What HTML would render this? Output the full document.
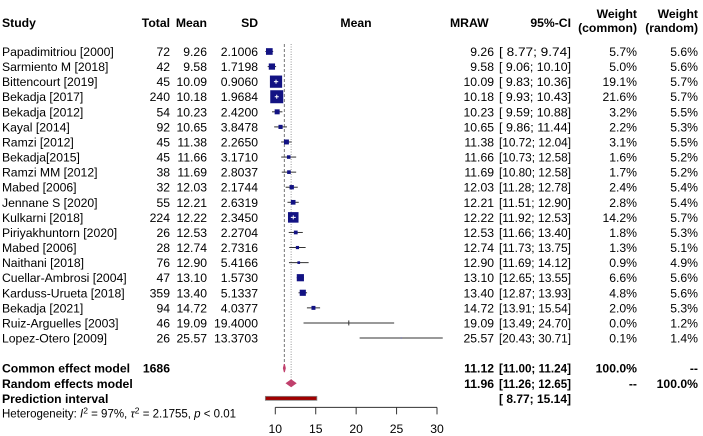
<!DOCTYPE html>
<html><head><meta charset="utf-8"><style>
html,body{margin:0;padding:0;background:#fff;}
svg{display:block;font-family:"Liberation Sans",Arial,sans-serif;}
</style></head><body>
<svg id="plot" width="703" height="436" viewBox="0 0 703 436" xmlns="http://www.w3.org/2000/svg"></svg>
<script>
const studies=["Papadimitriou [2000]","Sarmiento M  [2018]","Bittencourt [2019]","Bekadja [2017]","Bekadja [2012]","Kayal  [2014]","Ramzi  [2012]","Bekadja[2015]","Ramzi MM  [2012]","Mabed [2006]","Jennane S [2020]","Kulkarni [2018]","Piriyakhuntorn [2020]","Mabed [2006]","Naithani [2018]","Cuellar-Ambrosi [2004]","Karduss-Urueta [2018]","Bekadja [2021]","Ruiz-Arguelles [2003]","Lopez-Otero [2009]"];
const totals=[72,42,45,240,54,92,45,45,38,32,55,224,26,28,76,47,359,94,46,26];
const means=[9.26,9.58,10.09,10.18,10.23,10.65,11.38,11.66,11.69,12.03,12.21,12.22,12.53,12.74,12.90,13.10,13.40,14.72,19.09,25.57];
const sds=["2.1006","1.7198","0.9060","1.9684","2.4200","3.8478","2.2650","3.1710","2.8037","2.1744","2.6319","2.3450","2.2704","2.7316","5.4166","1.5730","5.1337","4.0377","19.4000","13.3703"];
const lower=[8.77,9.06,9.83,9.93,9.59,9.86,10.72,10.73,10.80,11.28,11.51,11.92,11.66,11.73,11.69,12.65,12.87,13.91,13.49,20.43];
const upper=[9.74,10.10,10.36,10.43,10.88,11.44,12.04,12.58,12.58,12.78,12.90,12.53,13.40,13.75,14.12,13.55,13.93,15.54,24.70,30.71];
const wCommon=[5.7,5.0,19.1,21.6,3.2,2.2,3.1,1.6,1.7,2.4,2.8,14.2,1.8,1.3,0.9,6.6,4.8,2.0,0.0,0.1];
const wRandom=[5.6,5.6,5.7,5.7,5.5,5.3,5.5,5.2,5.2,5.4,5.4,5.7,5.3,5.1,4.9,5.6,5.6,5.3,1.2,1.4];
const commonEst=[11.12,11.00,11.24];
const randomEst=[11.96,11.26,12.65];
const predInt=[8.77,15.14];
const ticks=[10,15,20,25,30];

const FS=12.2;
const svg=document.getElementById('plot');
const NS="http://www.w3.org/2000/svg";
const X=v=>275.3+(v-10)*8.085;
const Y=i=>51.5+i*15.08;
function el(tag,attrs,parent){const e=document.createElementNS(NS,tag);for(const k in attrs)e.setAttribute(k,attrs[k]);(parent||svg).appendChild(e);return e;}
function txt(s,x,y,anchor,bold,size,parent){const t=el('text',{x:x,y:y,'text-anchor':anchor||'start','font-size':size||FS,'font-weight':bold?'bold':'normal',fill:'#000'},parent);t.textContent=s;return t;}
const f2=v=>v.toFixed(2);
function ciText(a,b,y,bold,parent){
  const s=(a<10?'[ ':'[')+f2(a)+'; '+f2(b)+']';
  const t=el('text',{x:499,y:y,'font-size':FS,'font-weight':bold?'bold':'normal',fill:'#000',textLength:72,lengthAdjust:'spacingAndGlyphs'},parent);
  t.setAttribute('xml:space','preserve');
  t.textContent=s;
  return t;
}

const hdr=el('g',{});


txt('Study',2,27,'start',true,FS,hdr);
txt('Total',170,27,'end',true,FS,hdr);
txt('Mean',207,27,'end',true,FS,hdr);
txt('SD',258,27,'end',true,FS,hdr);
txt('Mean',356,27,'middle',true,FS,hdr);
txt('MRAW',450,27,'start',true,FS,hdr);
txt('95%-CI',571,27,'end',true,FS,hdr);
txt('Weight',637,18,'end',true,FS,hdr);
txt('(common)',637,32,'end',true,FS,hdr);
txt('Weight',698,18,'end',true,FS,hdr);
txt('(random)',698,32,'end',true,FS,hdr);

const yc=Y(21),yr=Y(22),yp=Y(23);

const lc=el('line',{x1:X(commonEst[0]),x2:X(commonEst[0]),y1:44,y2:yc-2,stroke:'#777','stroke-dasharray':'3,2','stroke-width':1});


const lr=el('line',{x1:X(randomEst[0]),x2:X(randomEst[0]),y1:44,y2:yr-3,stroke:'#999','stroke-dasharray':'1,1.5','stroke-width':1});



studies.forEach((s,i)=>{
  const y=Y(i);
  const g=el('g',{});
  
  
  txt(s,2,y+4.5,'start',false,FS,g).setAttribute('xml:space','preserve');
  txt(String(totals[i]),170,y+4.5,'end',false,FS,g);
  txt(f2(means[i]),207,y+4.5,'end',false,FS,g);
  txt(sds[i],258,y+4.5,'end',false,FS,g);
  txt(f2(means[i]),494,y+4.5,'end',false,FS,g);
  ciText(lower[i],upper[i],y+4.5,false,g);
  txt(wCommon[i].toFixed(1)+'%',637,y+4.5,'end',false,FS,g);
  txt(wRandom[i].toFixed(1)+'%',698,y+4.5,'end',false,FS,g);
  const l=el('line',{x1:X(lower[i]),x2:X(upper[i]),y1:y,y2:y,stroke:'#333','stroke-width':1},g);
  
  
  const side=13*Math.sqrt(wCommon[i]/21.6);
  if(side>0.8){
    const r=el('rect',{x:X(means[i])-side/2,y:y-side/2,width:side,height:side,fill:'#121283'},g);
    
    
    if(side>X(upper[i])-X(lower[i])){
      el('line',{x1:X(lower[i]),x2:X(upper[i]),y1:y,y2:y,stroke:'#fff','stroke-width':1},g);
      el('line',{x1:X(means[i]),x2:X(means[i]),y1:y-2,y2:y+2,stroke:'#fff','stroke-width':1},g);
    }
  } else {
    el('line',{x1:X(means[i]),x2:X(means[i]),y1:y-2.5,y2:y+2.5,stroke:'#333','stroke-width':1},g);
  }
});

const gc=el('g',{});


txt('Common effect model',2,yc+4.5,'start',true,FS,gc);
txt('1686',170,yc+4.5,'end',true,FS,gc);
txt(f2(commonEst[0]),494,yc+4.5,'end',true,FS,gc);
ciText(commonEst[1],commonEst[2],yc+4.5,true,gc);
txt('100.0%',637,yc+4.5,'end',true,FS,gc);
txt('--',698,yc+4.5,'end',true,FS,gc);
const dc=el('polygon',{points:`${X(commonEst[1])},${yc} ${X(commonEst[0])},${yc-4} ${X(commonEst[2])},${yc} ${X(commonEst[0])},${yc+4}`,fill:'#c0406c',stroke:'#c0406c','stroke-width':1},gc);



const gr=el('g',{});


txt('Random effects model',2,yr+4.5,'start',true,FS,gr);
txt(f2(randomEst[0]),494,yr+4.5,'end',true,FS,gr);
ciText(randomEst[1],randomEst[2],yr+4.5,true,gr);
txt('--',637,yr+4.5,'end',true,FS,gr);
txt('100.0%',698,yr+4.5,'end',true,FS,gr);
const dr=el('polygon',{points:`${X(randomEst[1])},${yr} ${X(randomEst[0])},${yr-4} ${X(randomEst[2])},${yr} ${X(randomEst[0])},${yr+4}`,fill:'#c0406c'},gr);



const gp=el('g',{});


txt('Prediction interval',2,yp+4.5,'start',true,FS,gp);
ciText(predInt[0],predInt[1],yp+4.5,true,gp);
const pr=el('rect',{x:X(predInt[0]),y:yp-2,width:X(predInt[1])-X(predInt[0]),height:4,fill:'#a00000',stroke:'#888','stroke-width':0.8},gp);



const ht=el('text',{x:2,y:Y(24)+4,'font-size':11.5,fill:'#000'});


ht.innerHTML='Heterogeneity: <tspan font-style="italic">I</tspan><tspan dy="-4" font-size="8.5">2</tspan><tspan dy="4"> = 97%, </tspan><tspan font-style="italic">τ</tspan><tspan dy="-4" font-size="8.5">2</tspan><tspan dy="4"> = 2.1755, </tspan><tspan font-style="italic">p</tspan> &lt; 0.01';

const ay=yp+9;
const ax=el('g',{});


el('line',{x1:X(ticks[0]),x2:X(ticks[ticks.length-1]),y1:ay,y2:ay,stroke:'#333','stroke-width':1},ax);
ticks.forEach(t=>{
  el('line',{x1:X(t),x2:X(t),y1:ay,y2:ay+7,stroke:'#333','stroke-width':1},ax);
  const tl=txt(String(t),X(t),433,'middle',false,FS,ax);
  
  
});
</script>
</body></html>
